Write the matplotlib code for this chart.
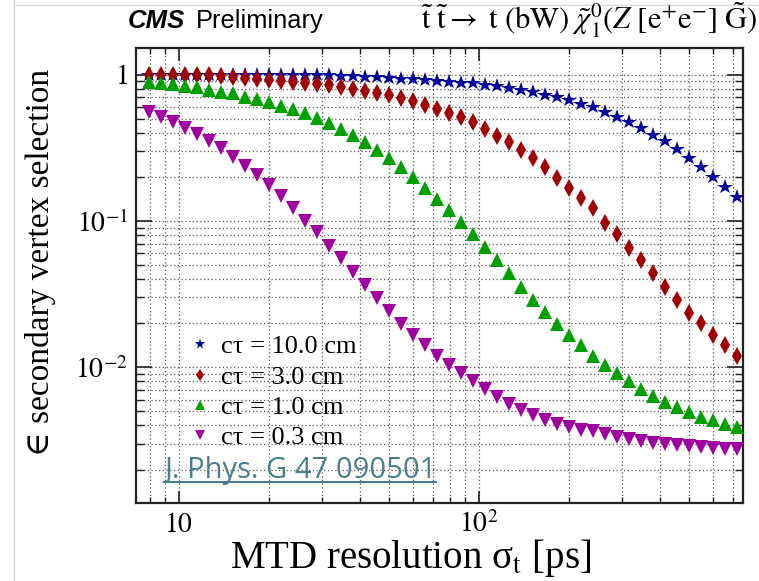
import matplotlib
matplotlib.use("Agg")
import matplotlib.pyplot as plt
from matplotlib.ticker import FixedLocator, FixedFormatter, LogLocator, NullFormatter
from matplotlib.lines import Line2D

plt.rcParams['font.family'] = ['Liberation Serif', 'DejaVu Serif']
plt.rcParams['mathtext.fontset'] = 'stix'

# ---------------- data ----------------
mtd_res = [7.94, 8.71, 9.55, 10.47, 11.48, 12.59, 13.80, 15.14, 16.60, 18.20,
           19.95, 21.88, 23.99, 26.30, 28.84, 31.62, 34.67, 38.02, 41.69, 45.71,
           50.12, 54.95, 60.26, 66.07, 72.44, 79.43, 87.10, 95.50, 104.7, 114.8,
           125.9, 138.0, 151.4, 166.0, 182.0, 199.5, 218.8, 239.9, 263.0, 288.4,
           316.2, 346.7, 380.2, 416.9, 457.1, 501.2, 549.5, 602.6, 660.7, 724.4]

eff_10cm = [1.00, 1.00, 1.00, 1.00, 1.00, 1.00, 1.00, 1.00, 1.00, 1.00,
            1.00, 0.995, 0.995, 0.993, 0.99, 0.99, 0.98, 0.98, 0.97, 0.97,
            0.95, 0.94, 0.93, 0.92, 0.90, 0.89, 0.88, 0.87, 0.85, 0.84,
            0.81, 0.785, 0.757, 0.725, 0.70, 0.67, 0.63, 0.60, 0.552, 0.51,
            0.476, 0.43, 0.387, 0.354, 0.308, 0.27, 0.234, 0.20, 0.171, 0.145]

eff_3cm = [1.00, 1.00, 1.00, 0.995, 0.99, 0.99, 0.98, 0.967, 0.952, 0.933,
           0.918, 0.904, 0.89, 0.872, 0.862, 0.849, 0.827, 0.80, 0.773, 0.745,
           0.725, 0.689, 0.66, 0.62, 0.582, 0.549, 0.51, 0.472, 0.425, 0.382,
           0.344, 0.305, 0.268, 0.232, 0.198, 0.169, 0.144, 0.122, 0.097, 0.081,
           0.0655, 0.054, 0.0442, 0.0355, 0.029, 0.0236, 0.020, 0.0166, 0.0141, 0.0119]

eff_1cm = [0.894, 0.88, 0.862, 0.836, 0.818, 0.785, 0.764, 0.745, 0.706, 0.678,
           0.646, 0.613, 0.579, 0.544, 0.504, 0.464, 0.425, 0.387, 0.348, 0.305,
           0.268, 0.232, 0.20, 0.169, 0.142, 0.119, 0.098, 0.0815, 0.0665, 0.054,
           0.0438, 0.0355, 0.029, 0.024, 0.0197, 0.0166, 0.0141, 0.0119, 0.0104, 0.0091,
           0.0080, 0.00709, 0.0064, 0.00582, 0.00533, 0.00492, 0.0046, 0.00435, 0.00412, 0.0039]

eff_03cm = [0.557, 0.515, 0.476, 0.433, 0.393, 0.354, 0.313, 0.275, 0.237, 0.206,
            0.176, 0.148, 0.123, 0.10, 0.0835, 0.0673, 0.0555, 0.0448, 0.0365, 0.0295,
            0.0243, 0.0197, 0.0166, 0.0141, 0.0119, 0.0104, 0.0091, 0.0081, 0.0071, 0.0063,
            0.00564, 0.00512, 0.00469, 0.00438, 0.00411, 0.0039, 0.00373, 0.00364, 0.00349, 0.00335,
            0.00324, 0.00312, 0.00305, 0.0030, 0.00292, 0.00288, 0.00285, 0.00282, 0.00277, 0.00274]

series_labels = ["cτ = 10.0 cm", "cτ = 3.0 cm", "cτ = 1.0 cm", "cτ = 0.3 cm"]
x_tick_vals = [10, 100]
x_tick_labels = [r"$10$", r"$10^{2}$"]
y_tick_vals = [1e-2, 1e-1, 1]
y_tick_labels = [r"$10^{-2}$", r"$10^{-1}$", r"$1$"]

# ---------------- figure ----------------
W, H = 759, 581
fig = plt.figure(figsize=(W / 100, H / 100), dpi=100)
fig.patch.set_facecolor("white")

L, R, T, B = 136, 742.7, 48, 503.3
ax = fig.add_axes([L / W, 1 - B / H, (R - L) / W, (B - T) / H])
ax.set_xscale("log")
ax.set_yscale("log")
ax.set_xlim(7.19, 756)
ax.set_ylim(1.175e-3, 1.52)

styles = [
    dict(marker="*", color="#00009c", ms=11.5),
    dict(marker="d", color="#a00000", ms=9),
    dict(marker="^", color="#00a000", ms=10),
    dict(marker="v", color="#a000a0", ms=10),
]
for ys, st, lab in zip([eff_10cm, eff_3cm, eff_1cm, eff_03cm], styles, series_labels):
    ax.plot(mtd_res, ys, linestyle="none", marker=st["marker"], color=st["color"],
            ms=st["ms"], mew=0, label=lab, zorder=3)

# ticks & grid
ax.xaxis.set_major_locator(FixedLocator(x_tick_vals))
ax.xaxis.set_major_formatter(FixedFormatter(x_tick_labels))
ax.xaxis.set_minor_locator(LogLocator(base=10, subs=range(2, 10), numticks=20))
ax.xaxis.set_minor_formatter(NullFormatter())
ax.yaxis.set_major_locator(FixedLocator(y_tick_vals))
ax.yaxis.set_major_formatter(FixedFormatter(y_tick_labels))
ax.yaxis.set_minor_locator(LogLocator(base=10, subs=range(2, 10), numticks=20))
ax.yaxis.set_minor_formatter(NullFormatter())

ax.tick_params(which="both", direction="in", top=True, right=True, color="#222222")
ax.tick_params(axis="x", which="major", length=9, width=1.2, labelsize=20, pad=20.5)
ax.tick_params(axis="x", which="minor", length=4.5, width=1.0)
ax.tick_params(axis="y", which="major", length=11.5, width=1.2, labelsize=20, pad=6)
ax.tick_params(axis="y", which="minor", length=5.5, width=1.0)
for lab in ax.get_xticklabels():
    lab.set_verticalalignment("baseline")
ax.grid(which="both", linestyle=(0, (1, 2)), color="#555555", linewidth=0.9, zorder=0)
for s in ax.spines.values():
    s.set_linewidth(1.6)
    s.set_color("#222222")

# legend
leg = ax.legend(loc="upper left", bbox_to_anchor=(188 / W, 1 - 335 / H),
                bbox_transform=fig.transFigure, frameon=False, fontsize=19,
                markerscale=0.7, handlelength=0.9, handletextpad=0.35,
                labelspacing=0.26, borderpad=0, borderaxespad=0)

# axis labels
fig.text(41 / W, 1 - 262 / H, "∈ secondary vertex selection", rotation=90,
         ha="center", va="center", fontsize=24)
fig.text(411 / W, 1 - 568 / H, r"MTD resolution σ$_{\mathrm{t}}$ [ps]",
         ha="center", va="baseline", fontsize=28)

# header
fig.text(128 / W, 1 - 28 / H, "CMS", family="Liberation Sans",
         weight="bold", style="italic", fontsize=18.5, va="baseline")
fig.text(196 / W, 1 - 28 / H, "Preliminary", family="Liberation Sans",
         fontsize=18.3, va="baseline")
fig.text(757 / W, 1 - 30 / H,
         r"$\tilde{\mathrm{t}}\ \tilde{\mathrm{t}}\rightarrow\;\mathrm{t\ (bW)}\ "
         r"\tilde{\chi}^{0}_{1}(Z\ [\mathrm{e}^{+}\mathrm{e}^{-}]\ \tilde{\mathrm{G}})$",
         ha="right", va="baseline", fontsize=22)

# reference link
t_ref = fig.text(164 / W, 1 - 478 / H, "J. Phys. G 47 090501", family="Open Sans",
                 color="#4b7d8e", fontsize=21, va="baseline", zorder=5)
fig.canvas.draw()
bb = t_ref.get_window_extent()
uy = (bb.y0 + 3) / H
fig.add_artist(Line2D([bb.x0 / W, bb.x1 / W], [uy, uy], color="#4b7d8e", lw=1.5))

# screenshot border lines
fig.add_artist(Line2D([14 / W, 14 / W], [0, 1], color="#d0d0d0", lw=1))
fig.add_artist(Line2D([14 / W, 1], [1 - 5 / H, 1 - 5 / H], color="#d8d8d8", lw=1))

fig.savefig("out.png", dpi=100)
